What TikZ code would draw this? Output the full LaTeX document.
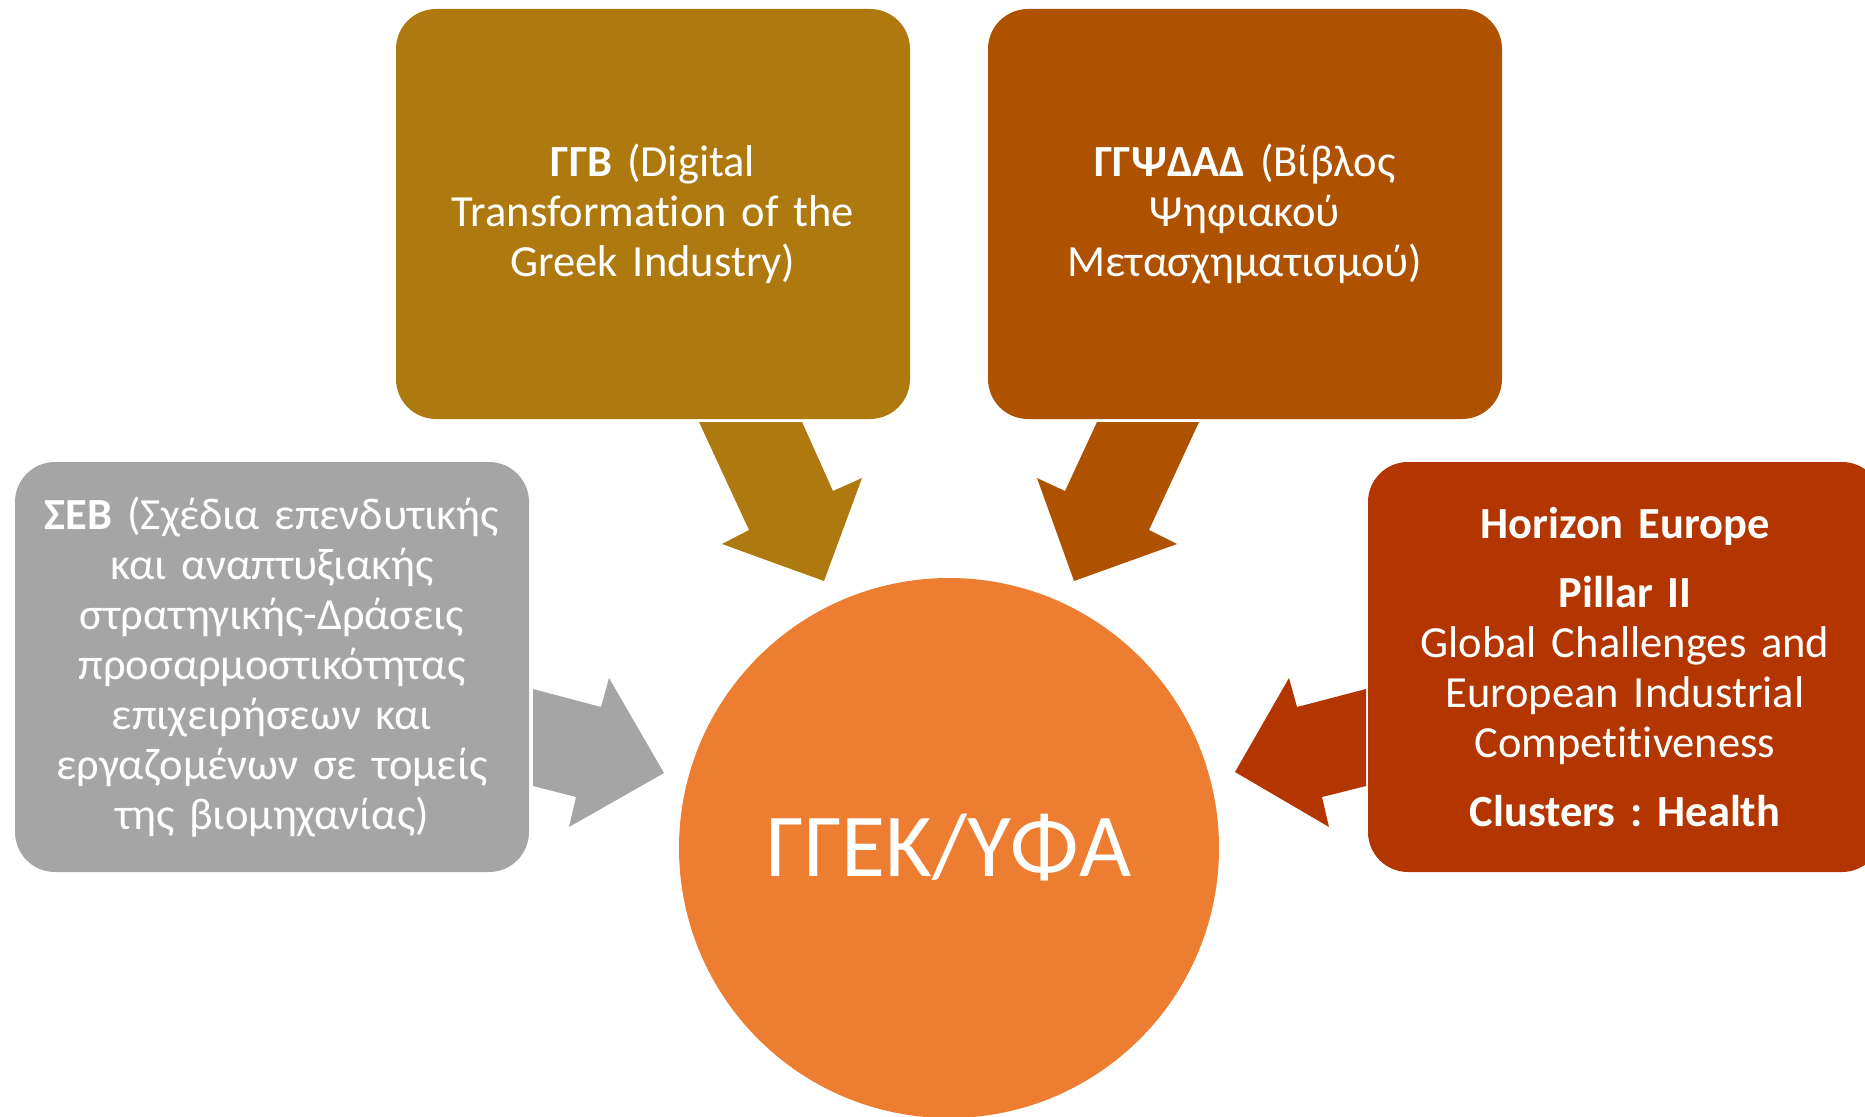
\documentclass[tikz,border=0pt]{standalone}
\usepackage{fontspec}
\setmainfont{Carlito}[Ligatures={TeX,NoCommon}]
\frenchspacing
\definecolor{ggbgold}{HTML}{AE790E}
\definecolor{ggpbrown}{HTML}{AE5200}
\definecolor{sebgrey}{HTML}{A5A5A5}
\definecolor{horred}{HTML}{B33600}
\definecolor{ggekorange}{HTML}{ED7D31}
\tikzset{
  srcbox/.style={rectangle, rounded corners=40pt, minimum width=514pt,
    minimum height=410pt, text width=500pt, align=center, text=white,
    font=\fontsize{44.5}{50}\selectfont, inner sep=0pt},
  hub/.style={circle, minimum size=540pt, fill=ggekorange, text=white,
    font=\fontsize{90}{100}\selectfont, inner sep=0pt}
}
\begin{document}
\begin{tikzpicture}[x=1pt,y=-1pt]
    \clip (0,0) rectangle (1865,1116);
    % centre
    \node[hub] (ggek) at (949,848) {ΓΓΕΚ/ΥΦΑ};
    % source boxes
    \node[srcbox, fill=ggbgold] (ggb) at (653,214) {\textbf{ΓΓΒ} (Digital\\Transformation of the\\Greek Industry)};
    \node[srcbox, fill=ggpbrown] (ggpsdad) at (1245,214) {\textbf{ΓΓΨΔΑΔ} (Βίβλος\\Ψηφιακού\\Μετασχηματισμού)};
    \node[srcbox, fill=sebgrey] (seb) at (272,667) {\textbf{ΣΕΒ} (Σχέδια επενδυτικής\\και αναπτυξιακής\\στρατηγικής-Δράσεις\\προσαρμοστικότητας\\επιχειρήσεων και\\εργαζομένων σε τομείς\\της βιομηχανίας)};
    \node[srcbox, fill=horred] (horizon) at (1625,667) {\textbf{Horizon Europe}\\[19pt]\textbf{Pillar II}\\Global Challenges and\\European Industrial\\Competitiveness\\[19pt]\textbf{Clusters : Health}};
    % block arrows
    \fill[ggbgold] (699,422) -- (802,422) -- (833,491) -- (862,478) -- (824,581) -- (722,544) -- (749,530) -- cycle;
    \fill[ggpbrown] (1199,422) -- (1097,422) -- (1065,491) -- (1037,478) -- (1074,581) -- (1177,544) -- (1149,530) -- cycle;
    \fill[sebgrey] (533,689) -- (601,707) -- (609,678) -- (664,773) -- (569,827) -- (576,797) -- (533,786) -- cycle;
    \fill[horred] (1366,689) -- (1297,707) -- (1289,678) -- (1235,772) -- (1329,827) -- (1322,797) -- (1366,786) -- cycle;
\end{tikzpicture}
\end{document}
